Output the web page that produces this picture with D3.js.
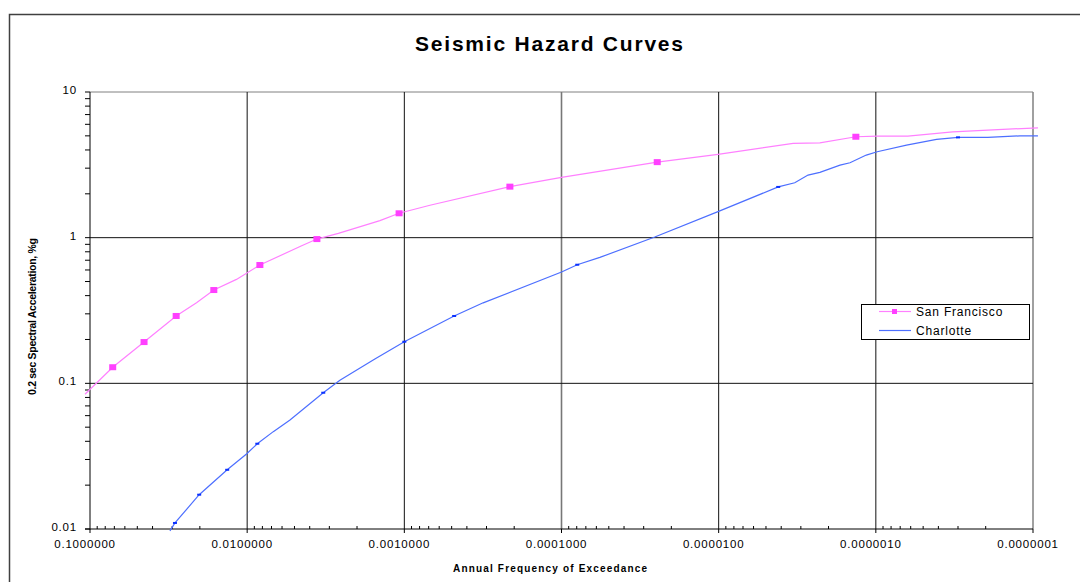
<!DOCTYPE html>
<html>
<head>
<meta charset="utf-8">
<script src="https://cdn.jsdelivr.net/npm/d3@7"></script>
<style>
  html, body { margin: 0; padding: 0; background: #fff; }
  svg { display: block; font-family: "Liberation Sans", Arial, sans-serif; }
</style>
</head>
<body>
<svg id="chart" width="1080" height="582"></svg>
<script>
// tick values
const xTicks = [0.1, 0.01, 0.001, 0.0001, 0.00001, 0.000001, 0.0000001]
const yTicks = [0.01, 0.1, 1, 10]
const yTickLabels = ['0.01', '0.1', '1', '10']

// San Francisco line (frequency, acceleration)
const sfFreq = [0.1076, 0.0717, 0.0453, 0.0283, 0.021, 0.0163, 0.0117, 0.0083, 0.0045, 0.0036,
  0.00263, 0.00143, 0.00108, 0.000687, 0.000213, 0.0001, 0.0000246, 0.0000101, 0.00000336,
  0.00000227, 0.00000134, 0.00000098, 0.000000626, 0.000000324, 0.000000093]
const sfAcc = [0.0841, 0.129, 0.192, 0.29, 0.357, 0.437, 0.517, 0.649, 0.88, 0.978,
  1.07, 1.31, 1.47, 1.67, 2.24, 2.59, 3.3, 3.73, 4.44,
  4.48, 4.93, 4.98, 4.98, 5.33, 5.68]
const sfMarkFreq = [0.0717, 0.0453, 0.0283, 0.0163, 0.0083, 0.0036, 0.00108, 0.000213, 0.0000246, 0.00000134]
const sfMarkAcc = [0.129, 0.192, 0.29, 0.437, 0.649, 0.978, 1.47, 2.24, 3.3, 4.93]

// Charlotte line
const chFreq = [0.031, 0.0288, 0.0202, 0.0134, 0.0101, 0.00862, 0.00682, 0.00534, 0.00328, 0.00257,
  0.00154, 0.001, 0.000482, 0.000315, 0.0000999, 0.0000794, 0.000057, 0.0000255, 0.0000101,
  0.00000418, 0.00000328, 0.0000027, 0.00000227, 0.00000169, 0.00000146, 0.00000115,
  0.00000098, 0.000000638, 0.000000411, 0.0000003, 0.000000194, 0.000000121, 0.000000093]
const chAcc = [0.0097, 0.011, 0.0172, 0.0255, 0.0327, 0.0385, 0.0466, 0.056, 0.0862, 0.105,
  0.147, 0.193, 0.29, 0.357, 0.581, 0.652, 0.732, 1.01, 1.51,
  2.23, 2.38, 2.69, 2.81, 3.15, 3.27, 3.69,
  3.89, 4.32, 4.73, 4.88, 4.88, 5.0, 5.0]
const chMarkFreq = [0.0288, 0.0202, 0.0134, 0.00862, 0.00328, 0.001, 0.000482, 0.0000794, 0.00000418, 0.0000003]
const chMarkAcc = [0.011, 0.0172, 0.0255, 0.0385, 0.0862, 0.193, 0.29, 0.652, 2.23, 4.88]

const svg = d3.select('#chart')
const plotLeft = 90
const plotRight = 1033
const plotTop = 92
const plotBottom = 529

const x = d3.scaleLog().domain([0.1, 0.0000001]).range([plotLeft, plotRight])
const y = d3.scaleLog().domain([0.01, 10]).range([plotBottom, plotTop])

// outer frame
svg.append('rect')
  .attr('x', 9.5).attr('y', 14.5).attr('width', 1100).attr('height', 600)
  .attr('fill', 'none').attr('stroke', '#404040').attr('stroke-width', 1.5)

svg.append('text')
  .text('Seismic Hazard Curves')
  .attr('x', 549).attr('y', 51)
  .attr('text-anchor', 'middle')
  .attr('font-size', 21).attr('font-weight', 'bold')
  .attr('textLength', 268).attr('lengthAdjust', 'spacing')

// plot border (top/right grey)
svg.append('line').attr('x1', plotLeft).attr('x2', plotRight).attr('y1', plotTop).attr('y2', plotTop)
  .attr('stroke', '#808080').attr('stroke-width', 1)
svg.append('line').attr('x1', plotRight).attr('x2', plotRight).attr('y1', plotTop).attr('y2', plotBottom)
  .attr('stroke', '#808080').attr('stroke-width', 1.5)

// grid
const grid = svg.append('g')
xTicks.slice(1, -1).forEach((t) => {
  grid.append('line')
    .attr('x1', x(t)).attr('x2', x(t)).attr('y1', plotTop).attr('y2', plotBottom)
    .attr('stroke', t === 0.0001 ? '#777' : '#111')
    .attr('stroke-width', t === 0.0001 ? 1.6 : 1)
})
yTicks.slice(1, -1).forEach((t) => {
  grid.append('line')
    .attr('x1', plotLeft).attr('x2', plotRight).attr('y1', y(t)).attr('y2', y(t))
    .attr('stroke', '#111').attr('stroke-width', 1)
})

// minor ticks
const xMinor = []
for (let k = -2; k >= -7; k--) {
  for (let m = 2; m <= 9; m++) xMinor.push(m * Math.pow(10, k))
}
const yMinor = []
for (let k = -2; k <= 0; k++) {
  for (let m = 2; m <= 9; m++) yMinor.push(m * Math.pow(10, k))
}

const axes = svg.append('g').attr('stroke', '#000').attr('stroke-width', 1)
axes.append('line').attr('x1', plotLeft).attr('x2', plotLeft).attr('y1', plotTop).attr('y2', plotBottom + 0.5)
axes.append('line').attr('x1', plotLeft - 5).attr('x2', plotRight).attr('y1', plotBottom).attr('y2', plotBottom)

xMinor.forEach((t) => {
  axes.append('line').attr('x1', x(t)).attr('x2', x(t)).attr('y1', plotBottom - 3).attr('y2', plotBottom)
})
xTicks.forEach((t) => {
  axes.append('line').attr('x1', x(t)).attr('x2', x(t)).attr('y1', plotBottom).attr('y2', plotBottom + 4)
})
yMinor.concat(yTicks).forEach((t) => {
  axes.append('line').attr('x1', plotLeft - 5).attr('x2', plotLeft).attr('y1', y(t)).attr('y2', y(t))
})

// tick labels
const fmt = d3.format('.7f')
svg.append('g').selectAll('text')
  .data(xTicks)
  .join('text')
  .attr('x', (d) => x(d) - 5)
  .attr('y', 548)
  .attr('text-anchor', 'middle')
  .attr('font-size', 11.5)
  .attr('letter-spacing', 0.8)
  .text(fmt)

svg.append('g').selectAll('text')
  .data(yTicks)
  .join('text')
  .attr('x', 77)
  .attr('y', (d) => y(d) + 2)
  .attr('text-anchor', 'end')
  .attr('font-size', 11.5)
  .attr('letter-spacing', 0.8)
  .text((d, i) => yTickLabels[i])

// axis titles
svg.append('text')
  .text('Annual Frequency of Exceedance')
  .attr('x', 550).attr('y', 572)
  .attr('text-anchor', 'middle')
  .attr('font-size', 10).attr('font-weight', 'bold')
  .attr('textLength', 194).attr('lengthAdjust', 'spacing')

svg.append('text')
  .text('0.2 sec Spectral Acceleration, %g')
  .attr('transform', 'translate(35.5,316.5) rotate(-90)')
  .attr('text-anchor', 'middle')
  .attr('font-size', 10.5).attr('font-weight', 'bold')
  .attr('textLength', 157).attr('lengthAdjust', 'spacing')

// series
const line = d3.line()
  .x((d) => x(d[0]))
  .y((d) => y(d[1]))

const sfLine = d3.zip(sfFreq, sfAcc)
const chLine = d3.zip(chFreq, chAcc)

svg.append('path')
  .datum(sfLine)
  .attr('d', line)
  .attr('fill', 'none')
  .attr('stroke', '#ff80ff')
  .attr('stroke-width', 1.2)

svg.append('path')
  .datum(chLine)
  .attr('d', line)
  .attr('fill', 'none')
  .attr('stroke', '#4d6fff')
  .attr('stroke-width', 1.2)

svg.append('g').selectAll('rect')
  .data(d3.zip(sfMarkFreq, sfMarkAcc))
  .join('rect')
  .attr('x', (d) => x(d[0]) - 3.5)
  .attr('y', (d) => y(d[1]) - 3)
  .attr('width', 7)
  .attr('height', 6)
  .attr('fill', '#ff40ff')

svg.append('g').selectAll('rect')
  .data(d3.zip(chMarkFreq, chMarkAcc))
  .join('rect')
  .attr('x', (d) => x(d[0]) - 2)
  .attr('y', (d) => y(d[1]) - 1)
  .attr('width', 4)
  .attr('height', 2)
  .attr('fill', '#0a30ff')

// legend
const legend = svg.append('g')
legend.append('rect')
  .attr('x', 861.5).attr('y', 304.5).attr('width', 168).attr('height', 35)
  .attr('fill', '#fff').attr('stroke', '#000').attr('stroke-width', 1)

const legendItems = [
  { name: 'San Francisco', color: '#ff80ff', mark: '#ff40ff', y: 311.5 },
  { name: 'Charlotte', color: '#4d6fff', mark: null, y: 330.5 }
]
legendItems.forEach((it) => {
  legend.append('line')
    .attr('x1', 879).attr('x2', 911).attr('y1', it.y).attr('y2', it.y)
    .attr('stroke', it.color).attr('stroke-width', 1.2)
  if (it.mark) {
    legend.append('rect')
      .attr('x', 892).attr('y', it.y - 2.5).attr('width', 5).attr('height', 5)
      .attr('fill', it.mark)
  }
  legend.append('text')
    .text(it.name)
    .attr('x', 916).attr('y', it.y + 4)
    .attr('font-size', 12)
    .attr('letter-spacing', 0.8)
})
</script>
</body>
</html>
